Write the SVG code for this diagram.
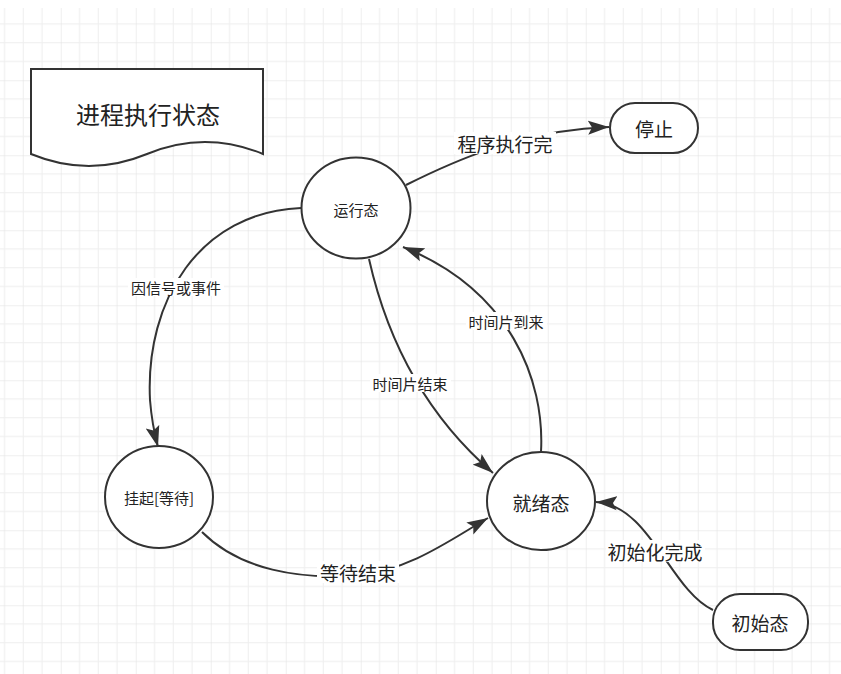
<svg xmlns="http://www.w3.org/2000/svg" width="841" height="674" viewBox="0 0 841 674">
<defs>
<pattern id="grid" patternUnits="userSpaceOnUse" x="-14.25" y="5.25" width="75" height="75">
<rect x="0" y="0" width="75" height="75" fill="#ffffff"/>
<rect x="18.25" y="0" width="1" height="75" fill="#eeeeee"/>
<rect x="37" y="0" width="1" height="75" fill="#eeeeee"/>
<rect x="55.75" y="0" width="1" height="75" fill="#eeeeee"/>
<rect x="0" y="18.25" width="75" height="1" fill="#eeeeee"/>
<rect x="0" y="37" width="75" height="1" fill="#eeeeee"/>
<rect x="0" y="55.75" width="75" height="1" fill="#eeeeee"/>
<rect x="-0.5" y="0" width="1" height="75" fill="#e0e0e0"/>
<rect x="0" y="-0.5" width="75" height="1" fill="#e0e0e0"/>
</pattern>
<marker id="arr" markerUnits="userSpaceOnUse" markerWidth="23" markerHeight="15" refX="21" refY="7.5" orient="auto">
<path d="M0,0.5 L21,7.5 L0,14.5 L4,7.5 Z" fill="#333333"/>
</marker>
<style>
.node{fill:#ffffff;stroke:#333333;stroke-width:2}
.edge{fill:none;stroke:#333333;stroke-width:2;marker-end:url(#arr)}
.t{font-family:"Noto Sans CJK SC","Liberation Sans",sans-serif;fill:#222222;text-anchor:middle;dominant-baseline:central}
.s{font-size:15px}
.l{font-size:19px}
.bg{fill:#ffffff}
</style>
</defs>
<rect x="0" y="0" width="841" height="674" fill="#ffffff"/>
<rect x="0" y="8" width="841" height="666" fill="url(#grid)"/>

<g id="title">
<path class="node" d="M31,69 H263 V154 Q205,130 147,154 Q89,178 31,154 Z"/>
<text class="t" x="148" y="113" style="font-size:24px">进程执行状态</text>
</g>

<g id="connectors">
<path class="edge" d="M406,185 C450,163 520,130 609,127"/>
<path class="edge" d="M301,208 C200,212 145,300 150,400 Q152,425 158,447"/>
<path class="edge" d="M369,259 C385,330 420,410 493,473"/>
<path class="edge" d="M541,452 C545,380 510,290 403,247"/>
<path class="edge" d="M202,532 C240,570 300,580 358,575 C410,570 450,540 488,518"/>
<path class="edge" d="M713,610 C670,590 650,505 596,502"/>

<rect class="bg" x="454" y="132" width="102" height="22"/>
<text class="t l" x="505" y="143">程序执行完</text>
<rect class="bg" x="128" y="278" width="96" height="18"/>
<text class="t s" x="176" y="287">因信号或事件</text>
<rect class="bg" x="370" y="374" width="81" height="18"/>
<text class="t s" x="410" y="383">时间片结束</text>
<rect class="bg" x="466" y="312" width="81" height="18"/>
<text class="t s" x="506" y="321">时间片到来</text>
<rect class="bg" x="317" y="561" width="82" height="22"/>
<text class="t l" x="358" y="572">等待结束</text>
<rect class="bg" x="606" y="540" width="99" height="22"/>
<text class="t l" x="655" y="551">初始化完成</text>
</g>

<g id="running">
<ellipse class="node" cx="356" cy="208" rx="54.5" ry="50.5"/>
<text class="t s" x="356" y="209">运行态</text>
</g>
<g id="stop">
<rect class="node" x="610" y="103" width="88" height="50" rx="25" ry="25"/>
<text class="t l" x="654" y="128">停止</text>
</g>
<g id="blocked">
<ellipse class="node" cx="159" cy="497" rx="54" ry="51"/>
<text class="t s" x="159" y="497">挂起[等待]</text>
</g>
<g id="ready">
<ellipse class="node" cx="541" cy="501" rx="54" ry="49"/>
<text class="t l" x="541" y="502">就绪态</text>
</g>
<g id="init">
<rect class="node" x="713" y="594" width="95" height="56" rx="27" ry="27"/>
<text class="t l" x="760" y="622">初始态</text>
</g>
</svg>
